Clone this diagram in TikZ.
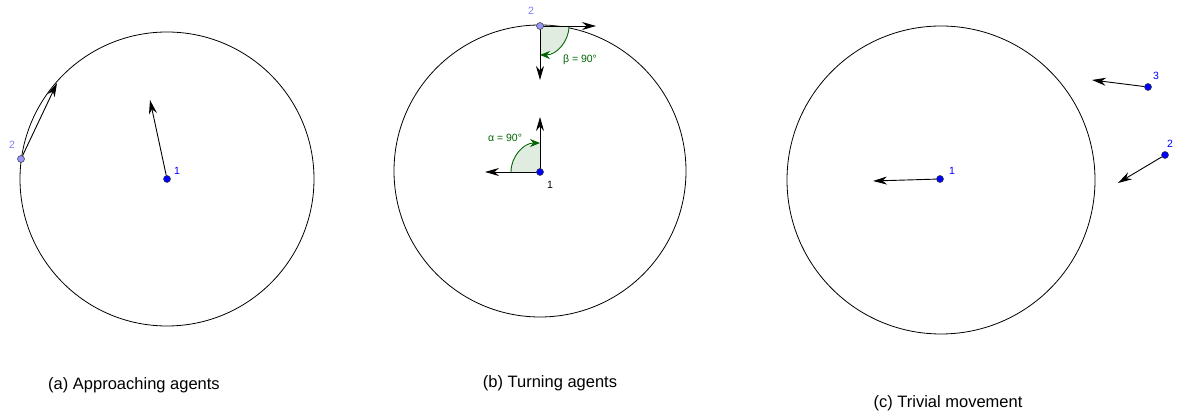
\documentclass[tikz,border=0pt]{standalone}
\usepackage{fontspec}
\setmainfont{Liberation Sans}
\usepackage{tikz}
\usetikzlibrary{arrows.meta, calc}
\definecolor{agentblue}{RGB}{0,0,255}
\definecolor{agentlav}{RGB}{150,150,255}
\definecolor{labellav}{RGB}{125,125,255}
\definecolor{anglegreen}{RGB}{0,100,0}

\tikzset{
  agent/.style={circle, draw=black!80, fill=agentblue, minimum size=7pt, inner sep=0pt, line width=0.5pt},
  agentb/.style={agent, fill=agentlav},
  move/.style={line width=0.9pt, -{Stealth[length=14pt,width=8pt]}},
  anglefill/.style={fill=anglegreen!12, draw=none},
  anglearc/.style={anglegreen, line width=0.9pt, -{Stealth[length=10pt,width=8pt]}},
  caption/.style={font=\fontsize{16.5}{19}\selectfont},
  tag/.style={font=\fontsize{10.5}{12}\selectfont},
}

\begin{document}
\begin{tikzpicture}[x=1pt,y=1pt]
\useasboundingbox (0,0) rectangle (1178,414);

% (a) Approaching agents
\draw[line width=0.8pt] (167,235) circle (147);
\node[agent] (a1) at (167,235) {};
\node[agentb] (a2) at (21,255) {};
\coordinate (a1end) at (150,314);
\coordinate (a2end) at (57,331);
\draw[move] (a1) -- (a1end);
\draw[move] (a2) -- (a2end);
\node[tag, agentblue] (la1) at (177,243) {1};
\node[tag, labellav] (la2) at (12,269) {2};
\node[caption] (capa) at (134,29) {(a) Approaching agents};

% (b) Turning agents
\draw[line width=0.8pt] (540,243) circle (146);
\coordinate (b2) at (540,388);
\coordinate (b1) at (540,242);
% angle wedges
\fill[anglefill] (b2) -- ++(0:29) arc (0:-90:29) -- cycle;
\fill[anglefill] (b1) -- ++(180:29) arc (180:90:29) -- cycle;
\draw[anglearc] ($(b2)+(0:29)$) arc (0:-90:29);
\draw[anglearc] ($(b1)+(180:29)$) arc (180:90:29);
\coordinate (b2right) at (596,388);
\coordinate (b2down) at (540,334);
\coordinate (b1up) at (540,297);
\coordinate (b1left) at (485,242);
\draw[move] (b2) -- (b2right);
\draw[move] (b2) -- (b2down);
\draw[move] (b1) -- (b1up);
\draw[move] (b1) -- (b1left);
\node[agentb] (t2) at (b2) {};
\node[agent] (t1) at (b1) {};
\node[tag, labellav] (lb2) at (531,403) {2};
\node[tag] (lb1) at (550,229) {1};
\node[tag, anglegreen] (beta) at (580,354) {β = 90°};
\node[tag, anglegreen] (alpha) at (505,276) {α = 90°};
\node[caption] (capb) at (550,31) {(b) Turning agents};

% (c) Trivial movement
\draw[line width=0.8pt] (941,234) circle (154);
\node[agent] (c1) at (940,235) {};
\node[agent] (c2) at (1165,259) {};
\node[agent] (c3) at (1148,327) {};
\coordinate (c1end) at (873,233);
\coordinate (c2end) at (1118,231);
\coordinate (c3end) at (1092,334);
\foreach \a in {1,2,3} {
  \draw[move] (c\a) -- (c\a end);
}
\node[tag, agentblue] (lc1) at (952,243) {1};
\node[tag, agentblue] (lc2) at (1170,270) {2};
\node[tag, agentblue] (lc3) at (1156,338) {3};
\node[caption] (capc) at (948,11) {(c) Trivial movement};
\end{tikzpicture}
\end{document}
